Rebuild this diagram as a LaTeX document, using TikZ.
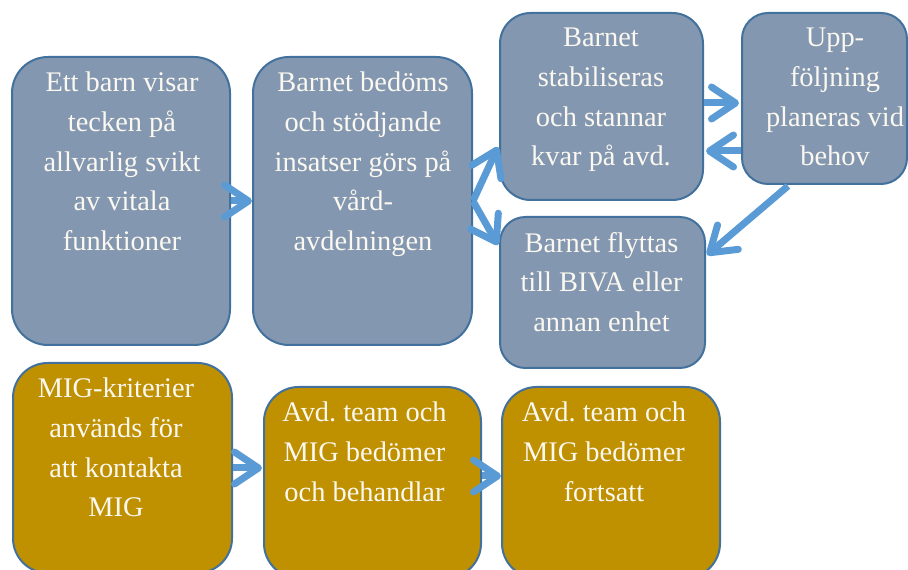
\documentclass[tikz,border=0pt]{standalone}
\usepackage{fontspec}
\setmainfont{Liberation Serif}
\usetikzlibrary{calc,arrows.meta}

\begin{document}
\begin{tikzpicture}[x=0.75pt,y=0.75pt,yscale=-1,xscale=1,
    bluebox/.style={draw={rgb, 255:red, 65; green, 113; blue, 156 }, fill={rgb, 255:red, 132; green, 151; blue, 176 }, line width=1.5, inner sep=0pt},
    goldbox/.style={draw={rgb, 255:red, 65; green, 113; blue, 156 }, fill={rgb, 255:red, 191; green, 144; blue, 0 }, line width=1.5, inner sep=0pt},
    boxtext/.style={text={rgb, 255:red, 250; green, 248; blue, 240 }, align=center, inner sep=0pt, anchor=north, font=\fontsize{21.3}{29.7}\selectfont\frenchspacing},
    arr/.style={draw={rgb, 255:red, 91; green, 155; blue, 213 }, line width=5.25pt, -{Straight Barb[length=18pt,width=24pt,round]}}
  ]
                \useasboundingbox (0,0) rectangle (908,570);
                \clip (0,0) rectangle (908,570);
                %Rounded Rect (blue row)
                \node [bluebox, minimum width=163.5pt, minimum height=216pt, rounded corners=27pt] (A) at (121,201) {};
                \node [bluebox, minimum width=164.25pt, minimum height=216pt, rounded corners=27pt] (B) at (362.5,201) {};
                \node [bluebox, minimum width=152.25pt, minimum height=140.25pt, rounded corners=23pt] (C) at (601.5,106.5) {};
                \node [bluebox, minimum width=123.75pt, minimum height=128.25pt, rounded corners=19.5pt] (D) at (824.5,98.5) {};
                \node [bluebox, minimum width=153.75pt, minimum height=113.25pt, rounded corners=19pt] (E) at (602.5,292.5) {};
                %Rounded Rect (gold row)
                \node [goldbox, minimum width=164.25pt, minimum height=157.5pt, rounded corners=26pt] (F) at (122.5,468) {};
                \node [goldbox, minimum width=162.75pt, minimum height=143.25pt, rounded corners=26pt] (G) at (372.5,482.5) {};
                \node [goldbox, minimum width=163.5pt, minimum height=143.25pt, rounded corners=26pt] (H) at (611,482.5) {};
                %Text
                \node [boxtext] (Atxt) at (122,72) {Ett barn visar\\tecken på\\allvarlig svikt\\av vitala\\funktioner};
                \node [boxtext] (Btxt) at (363,72) {Barnet bedöms\\och stödjande\\insatser görs på\\vård-\\avdelningen};
                \node [boxtext] (Ctxt) at (601,28) {Barnet\\stabiliseras\\och stannar\\kvar på avd.};
                \node [boxtext] (Dtxt) at (835,28) {Upp-\\följning\\planeras vid\\behov};
                \node [boxtext] (Etxt) at (601.5,232) {Barnet flyttas\\till BIVA eller\\annan enhet};
                \node [boxtext] (Ftxt) at (116,378) {MIG-kriterier\\används för\\att kontakta\\MIG};
                \node [boxtext] (Gtxt) at (364.5,402) {Avd. team och\\MIG bedömer\\och behandlar};
                \node [boxtext] (Htxt) at (604,402) {Avd. team och\\MIG bedömer\\fortsatt};
                %Straight Lines
                \draw [arr] (A.east) -- (B.west);
                \draw [arr] (B.east) -- ($(C.south west)+(-1,-54)$);
                \draw [arr] (B.east) -- ($(E.north west)+(-1,29)$);
                \draw [arr] ($(C.east)+(0,-3.5)$) -- ($(D.west)+(-2,4.5)$);
                \draw [arr] ($(D.west)+(0,52.5)$) -- ($(C.east)+(2,44.5)$);
                \draw [arr] ($(D.south)+(-36.5,1)$) -- ($(E.east)+(1,-37.5)$);
                \draw [arr] (F.east) -- ($(G.west)+(-1,-14.5)$);
                \draw [arr] ($(G.east)+(0,-6.5)$) -- ($(H.west)+(0,-6.5)$);
        \end{tikzpicture}
\end{document}
